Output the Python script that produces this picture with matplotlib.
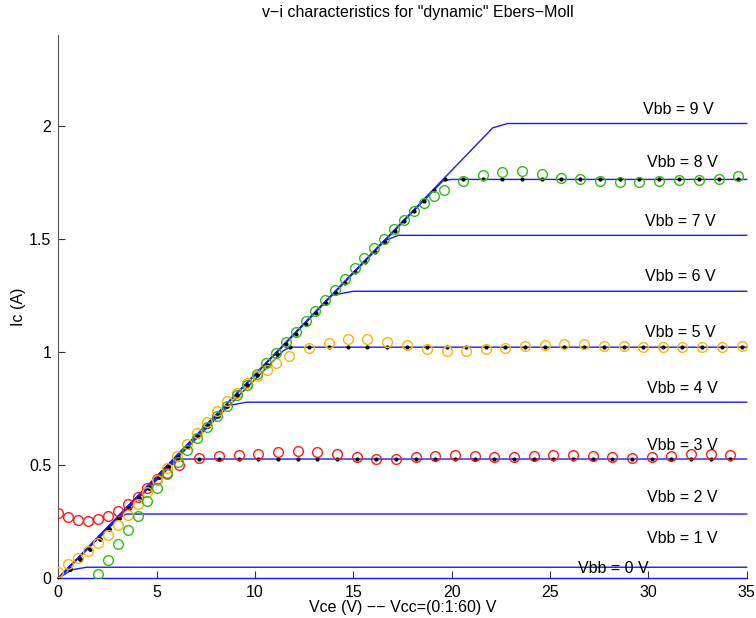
import matplotlib
matplotlib.use('Agg')
import matplotlib.pyplot as plt
import numpy as np

plt.rcParams['font.family'] = ['Liberation Sans', 'DejaVu Sans']

# static model: one curve per base voltage, described by its knee
vbb = [0, 1, 2, 3, 4, 5, 6, 7, 8, 9]
i_sat = [0.0, 0.049, 0.284, 0.527, 0.778, 1.021, 1.268, 1.515, 1.762, 2.009]
knee_x0 = [0.0, 0.69, 3.06, 5.94, 8.56, 11.45, 13.90, 16.55, 19.55, 22.09]
knee_y0 = [0.0, 0.038, 0.268, 0.515, 0.761, 1.006, 1.250, 1.490, 1.755, 1.990]
knee_x1 = [0.0, 1.45, 3.48, 6.19, 9.57, 11.77, 15.00, 17.29, 19.97, 22.85]
vce_end = 35.0

label_x = [26.4, 29.95, 29.95, 29.95, 29.95, 29.85, 29.85, 29.85, 29.95, 29.75]
label_y = [0.043, 0.177, 0.357, 0.588, 0.838, 1.084, 1.335, 1.577, 1.836, 2.071]

# static model sample points (Vcc = 0:1:60) on the common slope
diag_x = [0.0, 0.6, 1.1, 1.6, 2.1, 2.6, 3.1, 3.6, 4.1, 4.6, 5.1, 5.6, 6.1, 6.6,
          7.1, 7.6, 8.1, 8.6, 9.1, 9.6, 10.1, 10.6, 11.1, 11.6, 12.1, 12.6,
          13.1, 13.6, 14.1, 14.6, 15.1, 15.6, 16.1, 16.6, 17.1, 17.6, 18.1,
          18.6, 19.1]
diag_y = [0.0, 0.039, 0.085, 0.130, 0.175, 0.220, 0.266, 0.311, 0.356, 0.401,
          0.447, 0.492, 0.537, 0.582, 0.628, 0.673, 0.718, 0.763, 0.809, 0.854,
          0.899, 0.944, 0.990, 1.035, 1.080, 1.125, 1.171, 1.216, 1.261, 1.306,
          1.352, 1.397, 1.442, 1.487, 1.533, 1.578, 1.623, 1.668, 1.714]

# dynamic model, Vbb = 3 V (red)
red_x = [0.0, 0.51, 1.02, 1.53, 2.03, 2.54, 3.05, 3.56, 4.03, 4.53, 5.03, 5.54,
         6.12, 7.17, 8.17, 9.17, 10.17, 11.17, 12.17, 13.17, 14.17, 15.17,
         16.17, 17.17, 18.17, 19.17, 20.17, 21.17, 22.17, 23.17, 24.17, 25.17,
         26.17, 27.17, 28.17, 29.17, 30.17, 31.17, 32.17, 33.17, 34.17]
red_y = [0.287, 0.269, 0.257, 0.254, 0.263, 0.275, 0.298, 0.328, 0.360, 0.397,
         0.437, 0.466, 0.502, 0.531, 0.540, 0.544, 0.548, 0.556, 0.562, 0.559,
         0.548, 0.537, 0.528, 0.529, 0.534, 0.541, 0.543, 0.540, 0.535, 0.535,
         0.540, 0.546, 0.546, 0.541, 0.535, 0.532, 0.535, 0.541, 0.547, 0.549,
         0.543]

# dynamic model, Vbb = 5 V (orange)
orange_x = [0.0, 0.51, 1.02, 1.53, 2.03, 2.54, 3.05, 3.56, 4.03, 4.53, 5.03,
            5.54, 6.06, 6.56, 7.04, 7.54, 8.05, 8.56, 9.07, 9.58, 10.09, 10.59,
            11.08, 11.74, 12.75, 13.74, 14.74, 15.72, 16.73, 17.74, 18.74,
            19.75, 20.73, 21.73, 22.73, 23.73, 24.73, 25.72, 26.74, 27.74,
            28.74, 29.74, 30.74, 31.72, 32.72, 33.73, 34.74]
orange_y = [0.029, 0.063, 0.091, 0.122, 0.154, 0.191, 0.235, 0.279, 0.328,
            0.382, 0.434, 0.486, 0.542, 0.594, 0.642, 0.691, 0.740, 0.784,
            0.819, 0.861, 0.893, 0.922, 0.951, 0.980, 1.018, 1.040, 1.055,
            1.056, 1.044, 1.029, 1.015, 1.004, 1.004, 1.012, 1.018, 1.025,
            1.030, 1.034, 1.034, 1.028, 1.025, 1.022, 1.022, 1.022, 1.022,
            1.022, 1.025]

# dynamic model, Vbb = 8 V (green)
green_x = [2.03, 2.54, 3.02, 3.53, 4.03, 4.53, 5.03, 5.54, 6.07, 6.56, 7.04,
           7.54, 8.05, 8.56, 9.07, 9.58, 10.09, 10.58, 11.07, 11.58, 12.07,
           12.59, 13.07, 13.57, 14.08, 14.58, 15.07, 15.56, 16.07, 16.56,
           17.07, 17.58, 18.08, 18.58, 19.10, 19.60, 20.57, 21.58, 22.57,
           23.56, 24.58, 25.56, 26.54, 27.54, 28.54, 29.54, 30.55, 31.56,
           32.57, 33.57, 34.54]
green_y = [0.019, 0.081, 0.150, 0.213, 0.276, 0.341, 0.401, 0.463, 0.515,
           0.568, 0.622, 0.669, 0.716, 0.760, 0.809, 0.856, 0.902, 0.951,
           0.997, 1.043, 1.088, 1.135, 1.183, 1.228, 1.275, 1.324, 1.369,
           1.415, 1.459, 1.500, 1.541, 1.584, 1.622, 1.659, 1.688, 1.715,
           1.753, 1.783, 1.794, 1.797, 1.787, 1.770, 1.762, 1.753, 1.750,
           1.752, 1.755, 1.758, 1.761, 1.765, 1.775]

# where each static series leaves the slope: (slope points, knee x, first flat circle)
dyn_series = [
    (red_x, red_y, 3, 12, 6.10, 13, '#ff1a1a'),
    (orange_x, orange_y, 5, 23, 11.78, 24, '#ffb400'),
    (green_x, green_y, 8, 39, 19.64, 36, '#33bb11'),
]

fig = plt.figure(figsize=(7.56, 6.18), dpi=100)
ax = fig.add_axes([0.0771, 0.0642, 0.9106, 0.8792])

for k in range(len(vbb)):
    xs = [0.0, knee_x0[k], knee_x1[k], vce_end]
    ys = [0.0, knee_y0[k], i_sat[k], i_sat[k]]
    ax.plot(xs, ys, color='#1a1aff', lw=1.0, zorder=3, clip_on=False)
    ax.text(label_x[k], label_y[k], 'Vbb = %d V' % vbb[k], fontsize=11.5,
            ha='left', va='center', zorder=5)

for cx, cy, v, n_diag, kx, i_flat, col in dyn_series:
    lev = i_sat[v]
    dx = diag_x[:n_diag] + [kx] + cx[i_flat:]
    dy = diag_y[:n_diag] + [lev] + [lev] * len(cx[i_flat:])
    ax.plot(dx, dy, ls='none', marker='o', ms=2.0, mfc='k', mec='k', zorder=3.5)
    ax.plot(cx, cy, ls='none', marker='o', ms=7, mfc='none', mec=col,
            mew=1.0, zorder=4)

ax.set_xlim(0, 35)
ax.set_ylim(0, 2.4)
ax.set_xticks(np.arange(0, 36, 5))
ax.set_yticks([0, 0.5, 1, 1.5, 2])
ax.set_yticklabels(['0', '0.5', '1', '1.5', '2'])
for s in ['top', 'right']:
    ax.spines[s].set_visible(False)
for s in ['left', 'bottom']:
    ax.spines[s].set_color('#555555')
    ax.spines[s].set_linewidth(0.8)
ax.tick_params(direction='in', length=5, width=0.8, color='#333333',
               labelsize=11.5, pad=5)

ax.set_xlabel(u'Vce (V) \u2212\u2212 Vcc=(0:1:60) V', fontsize=11.5, labelpad=0)
ax.set_ylabel('Ic (A)', fontsize=11.5, labelpad=2)
fig.text(0.553, 1 - 12 / 618, u'v\u2212i characteristics for "dynamic" Ebers\u2212Moll',
         fontsize=11.5, ha='center', va='center')

fig.savefig('out.png', dpi=100)
